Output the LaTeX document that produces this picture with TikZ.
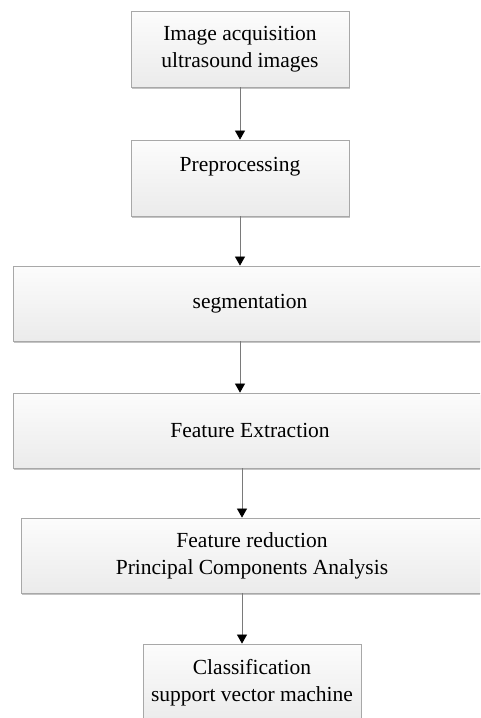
\documentclass[tikz,border=0pt]{standalone}
\usepackage{fontspec}
\setmainfont{Liberation Serif}
\usetikzlibrary{arrows.meta,shadows}
\definecolor{boxline}{HTML}{A8A8A8}
\definecolor{boxtop}{HTML}{FCFCFC}
\definecolor{boxbot}{HTML}{EBEBEB}
\definecolor{shade}{HTML}{C4C4C4}
\definecolor{arrline}{HTML}{7A7A7A}
\tikzset{
  stepbox/.style={draw=boxline, line width=0.8pt, top color=boxtop, bottom color=boxbot,
    rectangle, align=center, inner sep=0pt,
    font=\fontsize{21.5}{27}\selectfont,
    drop shadow={shadow xshift=1pt, shadow yshift=-2pt, fill=shade, opacity=1}},
  arr/.style={draw=arrline, line width=0.7pt,
    -{Triangle[length=9pt,width=10pt,color=black]}}
}
\begin{document}
\begin{tikzpicture}[x=1pt,y=-1pt]
\clip (0,0) rectangle (480,718);
\fill[white] (0,0) rectangle (480,718);
\node[stepbox, minimum width=218pt, minimum height=76pt] (b1) at (240,49) {Image acquisition\\ultrasound images};
\node[stepbox, minimum width=218pt, minimum height=76pt] (b2) at (240,178) {Preprocessing\\\mbox{}};
\node[stepbox, minimum width=474pt, minimum height=75pt] (b3) at (250,303.5) {segmentation};
\node[stepbox, minimum width=474pt, minimum height=75pt] (b4) at (250,430.5) {Feature Extraction};
\node[stepbox, minimum width=462pt, minimum height=75pt] (b5) at (252,555.5) {Feature reduction\\Principal Components Analysis};
\node[stepbox, minimum width=218pt, minimum height=78pt] (b6) at (252,683) {Classification\\support vector machine};
\coordinate (c1) at (240,0);
\coordinate (c2) at (242,0);
\draw[arr] (b1) -- (b2);
\draw[arr] (b2.south) -- (b3.north -| c1);
\draw[arr] (b3.south -| c1) -- (b4.north -| c1);
\draw[arr] (b4.south -| c2) -- (b5.north -| c2);
\draw[arr] (b5.south -| c2) -- (b6.north -| c2);
\end{tikzpicture}
\end{document}
